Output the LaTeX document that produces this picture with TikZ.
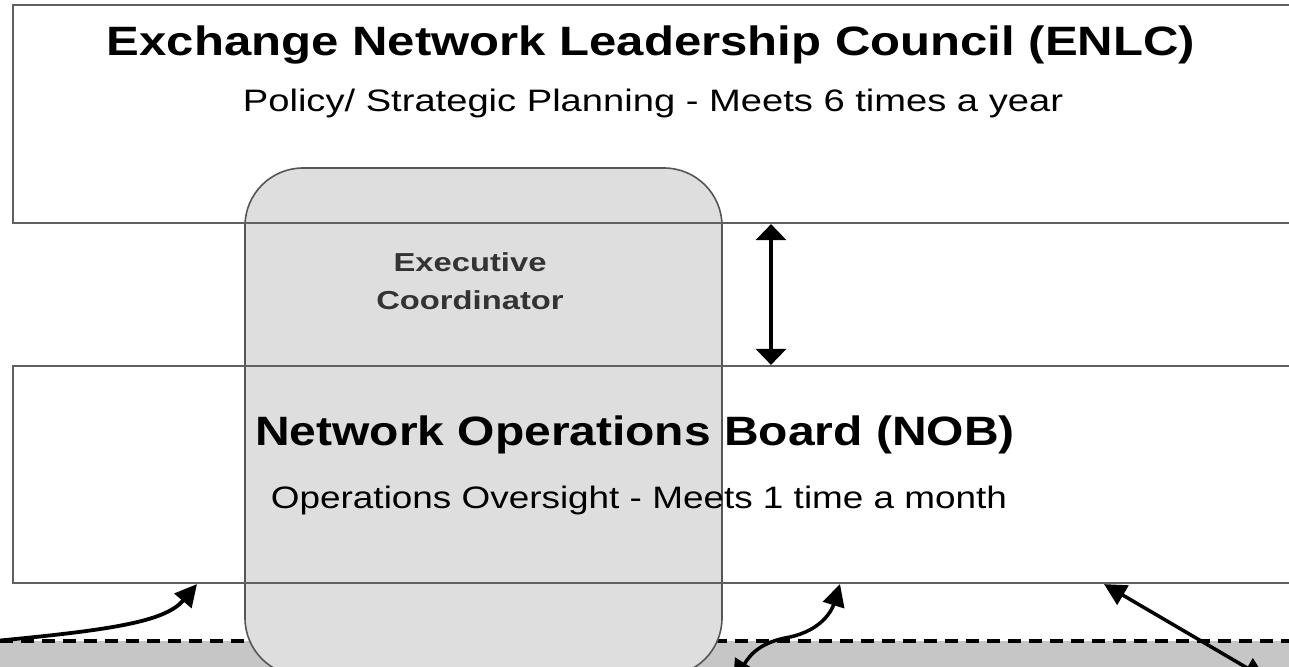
\documentclass[tikz,border=0pt]{standalone}
\usepackage{fontspec}
\setmainfont{Liberation Sans}
\usepackage{graphicx}
\usetikzlibrary{arrows.meta}
\newcommand\hs[2]{\scalebox{#1}[1]{#2}}
\definecolor{boxline}{HTML}{606060}
\definecolor{ecfill}{HTML}{DEDEDE}
\definecolor{stripfill}{HTML}{C6C6C6}
\definecolor{ectext}{HTML}{333333}
\tikzset{
  panel/.style={draw=boxline, line width=2.2pt, rectangle, inner sep=0pt},
  ecbox/.style={draw=boxline!90!black, line width=1.6pt, fill=ecfill, rounded corners=58pt, inner sep=0pt},
  bigtitle/.style={anchor=base, inner sep=0pt, font=\fontsize{41}{46}\selectfont\bfseries},
  subtitle/.style={anchor=base, inner sep=0pt, font=\fontsize{31}{35}\selectfont},
  ectitle/.style={anchor=base, inner sep=0pt, text=ectext, font=\fontsize{26}{29}\selectfont\bfseries},
  vlink/.style={line width=3.5pt, {Triangle[length=16pt,width=30pt]}-{Triangle[length=16pt,width=30pt]}},
  clink/.style={line width=3.8pt, -{Triangle[length=22pt,width=22pt]}},
  dlink/.style={line width=3.5pt, {Triangle[length=22pt,width=22pt]}-{Triangle[length=22pt,width=22pt]}},
  divider/.style={line width=3.5pt, dash pattern=on 13pt off 8pt}
}
\begin{document}
\begin{tikzpicture}[x=1pt,y=-1pt]
\useasboundingbox (0,0) rectangle (1289,666);
% bottom strip and divider
\fill[stripfill] (-5,641) rectangle (1300,680);
\coordinate (dl) at (0,641);
\coordinate (dr) at (1289,641);
\draw[divider] (dl) -- (dr);
% executive coordinator rounded box
\node[ecbox, minimum width=477pt, minimum height=508pt] (ec) at (483.5,422) {};
% panels
\node[panel, minimum width=1287pt, minimum height=218pt] (enlc) at (656.5,114) {};
\node[panel, minimum width=1287pt, minimum height=217pt] (nob) at (656.5,474.5) {};
% texts
\node[bigtitle] (t1) at (651,56) {\hs{1.197}{Exchange Network Leadership Council (ENLC)}};
\node[subtitle] (s1) at (653,111) {\hs{1.23}{Policy/ Strategic Planning - Meets 6 times a year}};
\node[ectitle] (e1) at (470,271) {\hs{1.26}{Executive}};
\node[ectitle] (e2) at (470,309) {\hs{1.26}{Coordinator}};
\node[bigtitle] (t2) at (635,445) {\hs{1.17}{Network Operations Board (NOB)}};
\node[subtitle] (s2) at (639,508) {\hs{1.19}{Operations Oversight - Meets 1 time a month}};
% arrows
\coordinate (vx) at (771,0);
\draw[vlink] (enlc.south -| vx) -- (nob.north -| vx);
\coordinate (a1s) at (-5,641);
\coordinate (a1x) at (197,0);
\draw[clink] (a1s) .. controls (110,630) and (165,622) .. (nob.south -| a1x);
\coordinate (a2s) at (733,682);
\coordinate (a2m) at (790,637);
\coordinate (a2x) at (840,0);
\draw[dlink] (a2s) .. controls (750,655) and (760,642) .. (a2m) .. controls (822,630) and (832,610) .. (nob.south -| a2x);
\coordinate (a3s) at (1266,679);
\coordinate (a3x) at (1104,0);
\draw[dlink] (a3s) -- (nob.south -| a3x);
\end{tikzpicture}
\end{document}
